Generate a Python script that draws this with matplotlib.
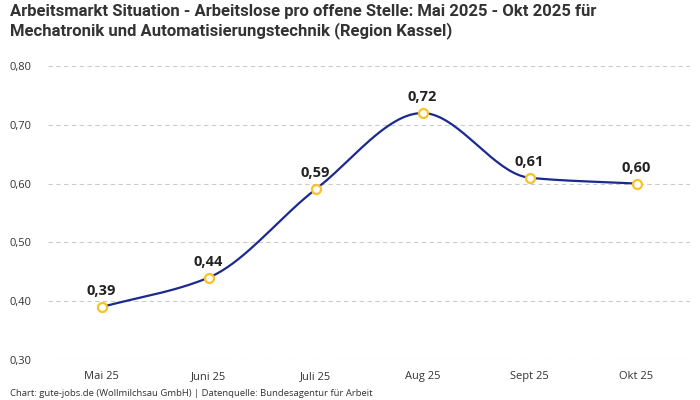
import numpy as np
import matplotlib.pyplot as plt

months = ['Mai 25', 'Juni 25', 'Juli 25', 'Aug 25', 'Sept 25', 'Okt 25']
values = [0.39, 0.44, 0.59, 0.72, 0.61, 0.60]
yticks = [0.3, 0.4, 0.5, 0.6, 0.7, 0.8]

plt.rcParams['font.family'] = ['Open Sans', 'DejaVu Sans']


def monotone(x, y, n=40):
    # monotone cubic (Fritsch-Carlson), like d3 curveMonotoneX
    x = np.asarray(x, float)
    y = np.asarray(y, float)
    h = np.diff(x)
    d = np.diff(y) / h
    m = np.zeros_like(y)
    m[0], m[-1] = d[0], d[-1]
    for i in range(1, len(y) - 1):
        if d[i - 1] * d[i] <= 0:
            m[i] = 0
        else:
            m[i] = (3 * (h[i - 1] + h[i])) / ((2 * h[i] + h[i - 1]) / d[i - 1] + (h[i] + 2 * h[i - 1]) / d[i])
    xs, ys = [], []
    for i in range(len(h)):
        t = np.linspace(0, 1, n)
        h00 = 2 * t**3 - 3 * t**2 + 1
        h10 = t**3 - 2 * t**2 + t
        h01 = -2 * t**3 + 3 * t**2
        h11 = t**3 - t**2
        xs.append(x[i] + t * h[i])
        ys.append(h00 * y[i] + h10 * h[i] * m[i] + h01 * y[i + 1] + h11 * h[i] * m[i + 1])
    return np.concatenate(xs), np.concatenate(ys)


fig = plt.figure(figsize=(7, 4), dpi=100)
ax = fig.add_axes([48 / 700, 0.1, 642 / 700, 0.735])

x = np.arange(len(months))
sx, sy = monotone(x, values)
ax.plot(sx, sy, color='#1b2a8f', lw=1.6, zorder=3)
ax.scatter(x, values, s=42, facecolor='white', edgecolor='#f7c325', linewidth=1.6, zorder=4)

for xi, v in zip(x, values):
    ax.annotate(f'{v:.2f}'.replace('.', ','), (xi, v), xytext=(0, 6.5), textcoords='offset points',
                ha='center', va='bottom', fontsize=10.5, fontweight='bold', color='#222222')

ax.set_xlim(-0.5, len(months) - 0.5)
ax.set_ylim(0.3, 0.8)
ax.set_xticks(x)
ax.set_xticklabels(months)
ax.set_yticks(yticks)
ax.set_yticklabels([f'{t:.2f}'.replace('.', ',') for t in yticks])
ax.grid(axis='y', color='#cccccc', linestyle=(0, (4, 3)), lw=0.8)
ax.set_axisbelow(True)
for s in ax.spines.values():
    s.set_visible(False)
ax.tick_params(axis='both', length=0, labelsize=8, colors='#333333')
ax.tick_params(axis='x', pad=8)
ax.tick_params(axis='y', pad=12)

fig.text(10 / 700, 1 - 4 / 400,
         'Arbeitsmarkt Situation - Arbeitslose pro offene Stelle: Mai 2025 - Okt 2025 für\n'
         'Mechatronik und Automatisierungstechnik (Region Kassel)',
         ha='left', va='top', fontsize=12, fontweight='bold', color='#333333',
         family=['Roboto', 'DejaVu Sans'], linespacing=1.25)
fig.text(10 / 700, 1 - 393 / 400,
         'Chart: gute-jobs.de (Wollmilchsau GmbH) | Datenquelle: Bundesagentur für Arbeit',
         ha='left', va='center', fontsize=6.8, color='#333333')

fig.savefig('out.png', dpi=100)
